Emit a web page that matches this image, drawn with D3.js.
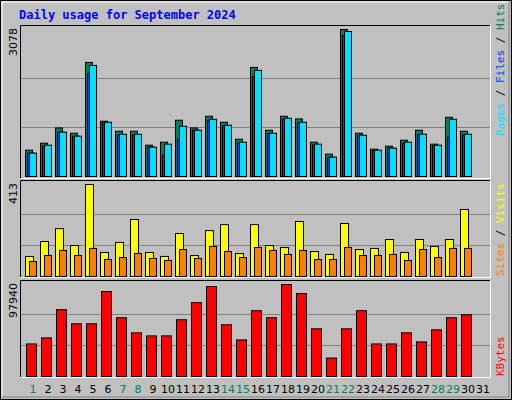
<!DOCTYPE html><html><head><script src="https://cdn.jsdelivr.net/npm/d3@7"></script>
<style>body{margin:0;background:#fff}</style></head><body><svg id="c" width="512" height="400"></svg>
<script>
const days=d3.range(1,32);
const weekend=[1,7,8,14,15,21,22,28,29];
const hits=[551,697,1017,906,2389,1157,948,948,656,718,1178,1017,1261,1136,781,2284,969,1261,1205,718,468,3078,906,572,635,760,969,677,1240,948,0];
const files=[489,656,927,844,2326,1136,885,885,614,677,1052,969,1198,1073,718,2222,906,1219,1136,677,405,3036,864,551,593,718,885,656,1198,885,0];
const pages=[489,640,927,844,2159,1120,870,870,614,447,781,969,1180,1060,700,2096,900,1200,1120,660,405,2950,850,540,593,700,870,640,823,870,0];
const visits=[90,157,215,139,413,108,153,256,108,90,193,94,206,233,103,233,139,130,247,112,99,238,121,126,166,108,166,135,166,301,0];
const sites=[67,94,117,94,126,76,85,103,81,72,121,81,135,112,85,130,117,99,117,76,76,130,94,94,99,72,121,85,126,126,0];
const kbytes=[34670,41100,71120,56110,56110,90420,62550,46460,43250,43250,60400,78630,95780,55040,38960,70050,62550,97940,88280,50750,19660,50750,70050,34670,34670,46460,36810,49680,62550,65760,0];
const svg=d3.select("#c");
svg.append("rect").attr("x",0.5).attr("y",0.5).attr("width",511).attr("height",399).attr("fill","#c0c0c0").attr("stroke","#000");
svg.append("path").attr("d","M2,397V2H509").attr("stroke","#fff").attr("fill","none");
svg.append("path").attr("d","M2,397H509V2").attr("stroke","#808080").attr("fill","none");
svg.append("text").attr("x",19).attr("y",19).text("Daily usage for September 2024").attr("fill","#0000ff").attr("font-family","DejaVu Sans Mono").attr("font-weight","bold").attr("font-size",12);
const x=d3.scaleBand().domain(days).range([25,490]);
function panel(y0,y1,top){
  svg.append("rect").attr("x",20).attr("y",y0).attr("width",470).attr("height",y1-y0).attr("fill","#c0c0c0");
  const ys=d3.scaleLinear().domain([0,1]).range([y1,y0+3]);
  [1/3,2/3].forEach(f=>svg.append("line").attr("x1",21).attr("x2",490).attr("y1",Math.round(y1-(y1-y0-3)*f)+.5).attr("y2",Math.round(y1-(y1-y0-3)*f)+.5).attr("stroke","#808080"));
  svg.append("path").attr("d",`M20.5,${y1+1}V${y0+.5}H490`).attr("stroke","#000").attr("fill","none");
  svg.append("path").attr("d",`M20,${y1+1.5}H490.5V${y0}`).attr("stroke","#fff").attr("fill","none");
}
function bars(vals,max,y0,y1,off,w,color){
  const y=d3.scaleLinear().domain([0,max]).range([y1,y0]);
  svg.append("g").selectAll("rect").data(days.filter((d,i)=>vals[i]>0)).join("rect")
   .attr("x",d=>x(d)+off+.5).attr("y",d=>y(vals[d-1])+.5).attr("width",w).attr("height",d=>y1-y(vals[d-1]))
   .attr("fill",color).attr("stroke","#000");
}
panel(25,177,0);panel(180,276,0);panel(280,376,0);
bars(hits,3078,29,176,0,7,"#00805f");
bars(pages,3078,29,176,2,7,"#0040ff");
bars(files,3078,29,176,4,7,"#00e0ff");
bars(visits,413,184,276,0,8,"#ffff00");
bars(sites,413,184,276,4,7,"#ff8000");
bars(kbytes,97940,284,376,1,10,"#ff0000");
svg.append("g").selectAll("text").data(days).join("text").attr("x",d=>x(d)+8).attr("y",393).attr("text-anchor","middle")
 .attr("font-family","DejaVu Sans").attr("font-size",11).attr("fill",d=>weekend.includes(d)?"#00805f":"#000").text(d=>d);
function vlabel(t,xp,yp,anchor){svg.append("text").attr("transform",`translate(${xp},${yp}) rotate(-90)`).attr("text-anchor",anchor).attr("font-family","DejaVu Sans").attr("font-size",11).text(t);}
vlabel("3078",17,28,"end");vlabel("413",17,183,"end");vlabel("97940",17,283,"end");
function rlabel(parts,yp){const t=svg.append("text").attr("transform",`translate(504,${yp}) rotate(-90)`).attr("font-family","DejaVu Sans Mono").attr("font-size",11);
 parts.forEach(p=>t.append("tspan").attr("fill",p[1]).text(p[0]));}
rlabel([["Pages","#00e0ff"],[" / ","#000"],["Files","#0040ff"],[" / ","#000"],["Hits","#00805f"]],136);
rlabel([["Sites","#ff8000"],[" / ","#000"],["Visits","#ffff00"]],276);
rlabel([["KBytes","#ff0000"]],376);
</script></body></html>
